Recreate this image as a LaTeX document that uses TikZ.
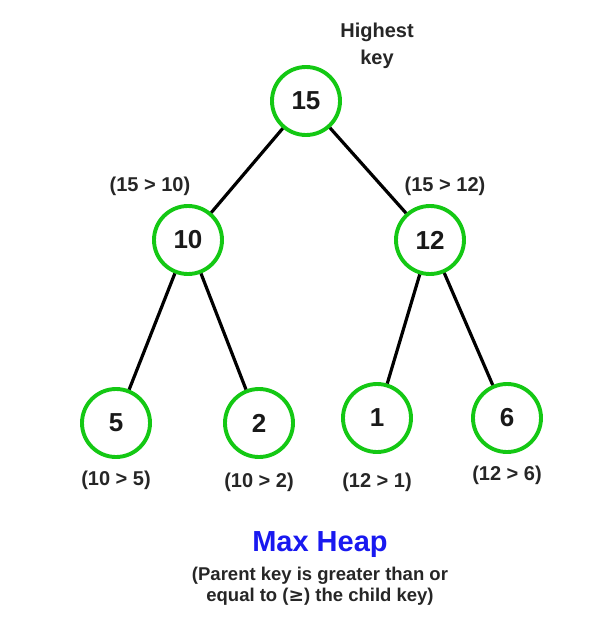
\documentclass[tikz,border=0pt]{standalone}
\usepackage{fontspec}
\setmainfont{Liberation Sans}
\newfontfamily\symfont{DejaVu Sans}
\definecolor{heapgreen}{RGB}{20,200,20}
\definecolor{heapblue}{RGB}{25,25,240}
\begin{document}
\begin{tikzpicture}[x=1pt,y=-1pt,
  keynode/.style={circle, draw=heapgreen, line width=3.9pt, fill=white, minimum size=68pt, inner sep=0pt, font=\fontsize{26}{28}\selectfont\bfseries, text=black!90},
  cmp/.style={font=\fontsize{20}{22}\selectfont\bfseries, text=black!85},
  edge/.style={draw=black, line width=3.2pt}]
\useasboundingbox (0,0) rectangle (597,624);
\node[keynode] (n15) at (306,101) {15};
\node[keynode] (n10) at (188,240) {10};
\node[keynode] (n12) at (430,240) {12};
\node[keynode] (n5) at (116,423) {5};
\node[keynode] (n2) at (259,423) {2};
\node[keynode] (n1) at (377,418) {1};
\node[keynode] (n6) at (507,418) {6};
\draw[edge] (n15) -- (n10);
\draw[edge] (n15) -- (n12);
\draw[edge] (n10) -- (n5);
\draw[edge] (n10) -- (n2);
\draw[edge] (n12) -- (n1);
\draw[edge] (n12) -- (n6);
\node[cmp, align=center, font=\fontsize{20}{27}\selectfont\bfseries] (hk) at (377,46) {Highest\\key};
\node[cmp] (l10) at (150,186) {(15 > 10)};
\node[cmp] (l12) at (445,186) {(15 > 12)};
\node[cmp] (l5) at (116,480) {(10 > 5)};
\node[cmp] (l2) at (259,482) {(10 > 2)};
\node[cmp] (l1) at (377,482) {(12 > 1)};
\node[cmp] (l6) at (507,475) {(12 > 6)};
\node[font=\fontsize{29}{31}\selectfont\bfseries, text=heapblue] (title) at (320,545) {Max Heap};
\node[cmp, align=center, font=\fontsize{18.5}{20.5}\selectfont\bfseries] (sub) at (320,586) {(Parent key is greater than or\\equal to ({\symfont\bfseries ≥}) the child key)};
\end{tikzpicture}
\end{document}
